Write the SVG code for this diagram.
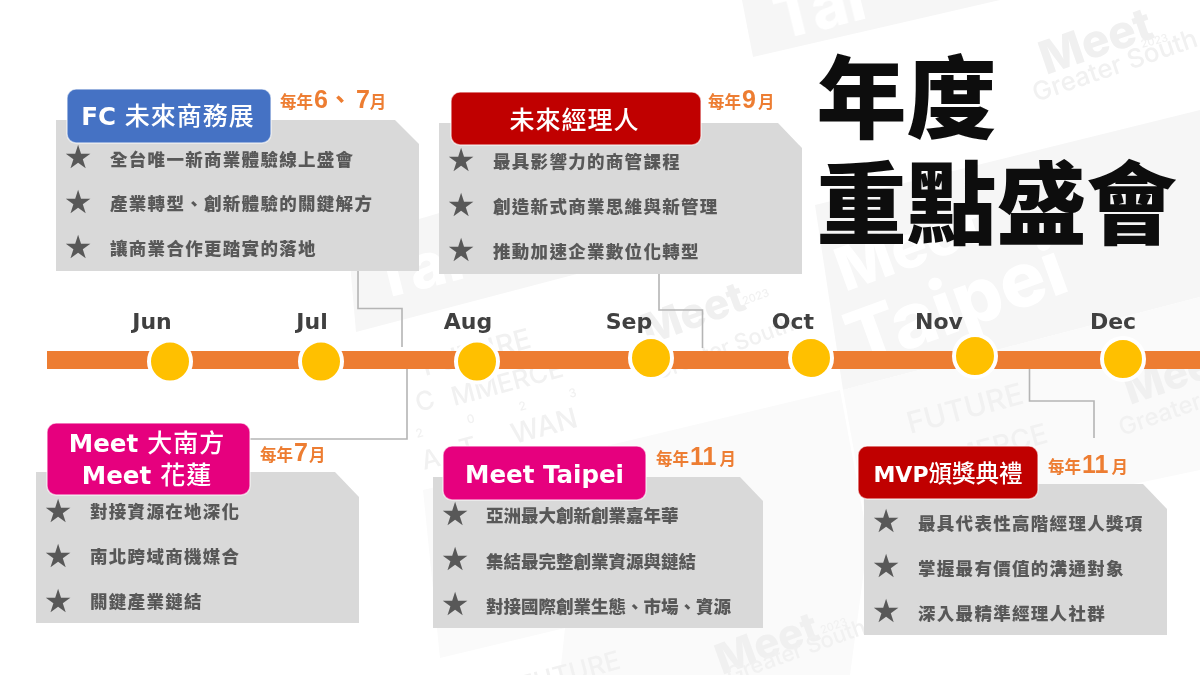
<svg xmlns="http://www.w3.org/2000/svg" width="1200" height="675" viewBox="0 0 1200 675">
<style>
.cjk{font-family:"Noto Sans CJK TC","Liberation Sans",sans-serif}
.panel{fill:#d9d9d9}
.pill{stroke:#ffffff;stroke-opacity:.6;stroke-width:1.5}
.blue{fill:#4472c4}.red{fill:#c00000}.pink{fill:#e6007e}
.pilltxt{font-family:"DejaVu Sans","Noto Sans CJK TC",sans-serif;font-weight:500;fill:#fff;text-anchor:middle;font-size:25px;letter-spacing:1px}
.pilltxt .b{font-weight:700;font-size:24.5px;letter-spacing:0}
.item{font-family:"Noto Sans CJK TC",sans-serif;font-weight:900;font-size:17.5px;letter-spacing:1.3px;fill:#595959}
.tight{letter-spacing:0}
.star{font-family:"DejaVu Sans",sans-serif;font-size:32px;fill:#595959;text-anchor:middle}
.date{font-family:"Noto Sans CJK TC",sans-serif;font-weight:700;font-size:16.5px;fill:#ed7d31}
.date .n{font-family:"Liberation Sans",sans-serif;font-size:25px;font-weight:700}
.month{font-family:"DejaVu Sans",sans-serif;font-weight:700;font-size:22px;fill:#404040;text-anchor:middle}
.dot{fill:#ffc000;stroke:#fff;stroke-width:4}
.conn{fill:none;stroke:#b5b5b5;stroke-width:1.6}
.tile{fill:#f6f6f6}
.tile2{fill:#fafafa}
.wm{font-family:Inter,"Liberation Sans",sans-serif;font-weight:800;fill:#f0f0f0}
.wmw{font-family:Inter,"Liberation Sans",sans-serif;font-weight:800;fill:#ffffff}
.wml{font-family:Inter,"Liberation Sans",sans-serif;font-weight:500;fill:#f1f1f1}
</style>
<defs>
<filter id="soft" filterUnits="userSpaceOnUse" x="-10" y="-10" width="1220" height="695"><feGaussianBlur stdDeviation="0.45"/></filter>
</defs>
<rect width="1200" height="675" fill="#ffffff"/>
<g filter="url(#soft)">
<g id="background">
<polygon class="tile" points="742,0 753,57 1000,0"/>
<polygon class="tile" points="348,240 356,332 592,270 585,170"/>
<polygon class="tile" points="815,205 843,390 1200,297 1200,110"/>
<polygon class="tile2" points="423,490 840,390 868,540 850,675 560,675 565,628 440,658"/>
<polygon class="tile2" points="843,390 1200,297 1200,470 870,540"/>
<text class="wmw" font-size="62" transform="translate(780,40) rotate(-14)">Tai</text>
<text class="wmw" font-size="62" transform="translate(378,300) rotate(-14)">Tai</text>
<text class="wm" font-size="46" transform="translate(1046,75) rotate(-19)">Meet</text>
<text class="wml" font-size="11" transform="translate(1142,48) rotate(-15)">2023</text>
<text class="wml" font-size="26" transform="translate(1036,102) rotate(-19)">Greater South</text>
<text class="wmw" font-size="76" transform="translate(858,368) rotate(-20)">Taipei</text>
<text class="wmw" font-size="60" transform="translate(845,292) rotate(-20)">Meet</text>
<text class="wm" font-size="42" transform="translate(648,345) rotate(-20)">Meet</text>
<text class="wml" font-size="11" transform="translate(744,305) rotate(-20)">2023</text>
<text class="wml" font-size="22" transform="translate(658,380) rotate(-20)">Greater South</text>
<text class="wml" font-size="28" transform="translate(425,376) rotate(-15)">FUTURE</text>
<text class="wml" font-size="26" transform="translate(418,412) rotate(-15)">C</text>
<text class="wml" font-size="26" transform="translate(454,406) rotate(-15)">MMERCE</text>
<text class="wml" font-size="12" transform="translate(417,438) rotate(-15)">2</text>
<text class="wml" font-size="12" transform="translate(468,424) rotate(-15)">0</text>
<text class="wml" font-size="12" transform="translate(520,411) rotate(-15)">2</text>
<text class="wml" font-size="12" transform="translate(570,398) rotate(-15)">3</text>
<text class="wml" font-size="26" transform="translate(424,470) rotate(-15)">A</text>
<text class="wml" font-size="26" transform="translate(462,458) rotate(-15)">T</text>
<text class="wml" font-size="28" transform="translate(514,444) rotate(-15)">WAN</text>
<text class="wml" font-size="30" transform="translate(910,434) rotate(-15)">FUTURE</text>
<text class="wml" font-size="28" transform="translate(930,474) rotate(-15)">MMERCE</text>
<text class="wm" font-size="42" transform="translate(1130,405) rotate(-19)">Meet</text>
<text class="wml" font-size="24" transform="translate(1122,436) rotate(-19)">Greater</text>
<text class="wm" font-size="42" transform="translate(722,675) rotate(-20)">Meet</text>
<text class="wml" font-size="11" transform="translate(822,634) rotate(-20)">2023</text>
<text class="wml" font-size="22" transform="translate(730,683) rotate(-20)">Greater South</text>
<text class="wml" font-size="26" transform="translate(522,695) rotate(-15)">FUTURE</text>
</g>
<g id="title">
<text class="cjk" font-weight="900" font-size="90" fill="#0d0d0d" x="816.500" y="131">年度</text>
<text class="cjk" font-weight="900" font-size="90" fill="#0d0d0d" x="816.500" y="237">重點盛會</text>
</g>
<g id="connectors">
<polyline class="conn" points="358,271 358,308.500 402,308.500 402,347"/>
<polyline class="conn" points="659,274 659,310 702.500,310 702.500,348"/>
<polyline class="conn" points="250,439 407,439 407,369"/>
<polyline class="conn" points="1029.500,365 1029.500,401 1094,401 1094,438"/>
</g>
<g id="timeline">
<rect x="47" y="351" width="1165" height="18" fill="#ed7d31"/>
<g id="m-jun"><text class="month" x="152" y="329">Jun</text><circle class="dot" cx="170" cy="361.500" r="21"/></g>
<g id="m-jul"><text class="month" x="312" y="329">Jul</text><circle class="dot" cx="321" cy="361.500" r="21"/></g>
<g id="m-aug"><text class="month" x="468" y="329">Aug</text><circle class="dot" cx="477" cy="361.500" r="21"/></g>
<g id="m-sep"><text class="month" x="629" y="329">Sep</text><circle class="dot" cx="651" cy="358" r="21"/></g>
<g id="m-oct"><text class="month" x="793" y="329">Oct</text><circle class="dot" cx="811" cy="358" r="21"/></g>
<g id="m-nov"><text class="month" x="939" y="329">Nov</text><circle class="dot" cx="975" cy="356" r="21"/></g>
<g id="m-dec"><text class="month" x="1113" y="329">Dec</text><circle class="dot" cx="1123" cy="359" r="21"/></g>
</g>
<g id="node-fc">
<polygon class="panel" points="56,120 395,120 419,144 419,271 56,271"/>
<rect class="pill blue" x="67" y="89" width="204" height="54" rx="9"/>
<text class="pilltxt" x="168" y="125"><tspan class="b">FC</tspan> 未來商務展</text>
<text class="date" x="280" y="108">每年<tspan class="n" dx="1">6</tspan><tspan font-size="24">、</tspan><tspan class="n" dx="4">7</tspan>月</text>
<text class="star" x="78" y="168">★</text><text class="item" x="110" y="166">全台唯一新商業體驗線上盛會</text>
<text class="star" x="78" y="213">★</text><text class="item" x="110" y="210">產業轉型、創新體驗的關鍵解方</text>
<text class="star" x="78" y="258">★</text><text class="item" x="110" y="255">讓商業合作更踏實的落地</text>
</g>
<g id="node-manager">
<polygon class="panel" points="439,123 778,123 802,148 802,274 439,274"/>
<rect class="pill red" x="451" y="92" width="250" height="53" rx="9"/>
<text class="pilltxt" x="574.500" y="129">未來經理人</text>
<text class="date" x="708" y="108">每年<tspan class="n" dx="1">9</tspan><tspan dx="2">月</tspan></text>
<text class="star" x="461" y="171">★</text><text class="item" x="493" y="168">最具影響力的商管課程</text>
<text class="star" x="461" y="216">★</text><text class="item" x="493" y="213">創造新式商業思維與新管理</text>
<text class="star" x="461" y="261">★</text><text class="item" x="493" y="258">推動加速企業數位化轉型</text>
</g>
<g id="node-meet-south">
<polygon class="panel" points="36,472 335,472 359,497 359,623 36,623"/>
<rect class="pill pink" x="47" y="423" width="203" height="72" rx="9"/>
<text class="pilltxt" x="147" y="452"><tspan class="b">Meet</tspan> 大南方</text>
<text class="pilltxt" x="147" y="484"><tspan class="b">Meet</tspan> 花蓮</text>
<text class="date" x="260" y="461">每年<tspan class="n" dx="1">7</tspan><tspan dx="1">月</tspan></text>
<text class="star" x="58" y="522">★</text><text class="item" x="90" y="518">對接資源在地深化</text>
<text class="star" x="58" y="567">★</text><text class="item" x="90" y="563">南北跨域商機媒合</text>
<text class="star" x="58" y="612">★</text><text class="item" x="90" y="608">關鍵產業鏈結</text>
</g>
<g id="node-meet-taipei">
<polygon class="panel" points="433,477 740,477 763,501 763,628 433,628"/>
<rect class="pill pink" x="443" y="446" width="203" height="54" rx="9"/>
<text class="pilltxt" x="544.500" y="483"><tspan class="b">Meet Taipei</tspan></text>
<text class="date" x="656" y="465">每年<tspan class="n" dx="1">11</tspan><tspan dx="3">月</tspan></text>
<text class="star" x="455" y="525">★</text><text class="item tight" x="486" y="522">亞洲最大創新創業嘉年華</text>
<text class="star" x="455" y="570">★</text><text class="item tight" x="486" y="568">集結最完整創業資源與鏈結</text>
<text class="star" x="455" y="615">★</text><text class="item tight" x="486" y="613">對接國際創業生態、市場、資源</text>
</g>
<g id="node-mvp">
<polygon class="panel" points="864,484 1143,484 1167,509 1167,635 864,635"/>
<rect class="pill red" x="858" y="446" width="180" height="53" rx="9"/>
<text class="pilltxt" x="948" y="482" style="font-size:23.500px;letter-spacing:0"><tspan class="b" style="font-size:22px">MVP</tspan>頒獎典禮</text>
<text class="date" x="1048" y="473">每年<tspan class="n" dx="1">11</tspan><tspan dx="3">月</tspan></text>
<text class="star" x="886" y="532">★</text><text class="item" x="918" y="530">最具代表性高階經理人獎項</text>
<text class="star" x="886" y="577">★</text><text class="item" x="918" y="575">掌握最有價值的溝通對象</text>
<text class="star" x="886" y="622">★</text><text class="item" x="918" y="620">深入最精準經理人社群</text>
</g>
</g>
</svg>
